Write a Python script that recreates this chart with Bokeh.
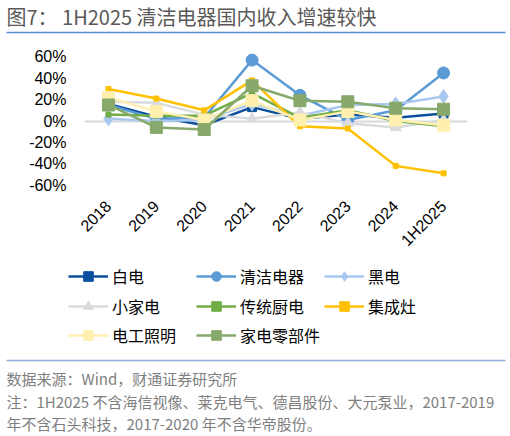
from bokeh.plotting import figure
from bokeh.layouts import column
from bokeh.models import Legend, LegendItem, FixedTicker, PrintfTickFormatter, Range1d
from bokeh.core.properties import value
from bokeh.embed import file_html
from bokeh.resources import INLINE
import math

years = ["2018", "2019", "2020", "2021", "2022", "2023", "2024", "1H2025"]

baidian = [16, 4, -4, 13, 2, 6, 3, 7]            # 白电
qingjie = [15, 2, 3, 57, 24, 1, 10, 45]          # 清洁电器
heidian = [2, 0, 1, 16, 5, 15, 16, 23]           # 黑电
xiaojiadian = [18, 17, 6, 2, 8, -2, -6, 1]       # 小家电
chuangtong = [6, 5, 5, 26, 3, 10, 0, -5]         # 传统厨电
jichengzao = [30, 21, 10, 38, -5, -7, -42, -49]  # 集成灶
diangong = [22, 9, 1, 19, 1, 9, 1, -4]           # 电工照明
lingbujian = [15, -6, -8, 33, 19, 18, 12, 11]    # 家电零部件

series = [
    ("白电", baidian, "#0B4F9F", "square", 9),
    ("清洁电器", qingjie, "#5B9BD5", "circle", 12),
    ("黑电", heidian, "#A9C8F0", "diamond", 14),
    ("小家电", xiaojiadian, "#D9DBDE", "triangle", 11),
    ("传统厨电", chuangtong, "#70AD47", "square", 5),
    ("集成灶", jichengzao, "#FFC000", "square", 5),
    ("电工照明", diangong, "#FFF0B0", "square", 12),
    ("家电零部件", lingbujian, "#87A96B", "square", 12),
]

title = "图7： 1H2025 清洁电器国内收入增速较快"
notes = [
    "数据来源：Wind，财通证券研究所",
    "注：1H2025 不含海信视像、莱克电气、德昌股份、大元泵业，2017-2019",
    "年不含石头科技，2017-2020 年不含华帝股份。",
]

CJK = "Noto Sans CJK SC"
LAT = "Liberation Sans"
W = 510
TOP_H = 40
CHART_H = 10 + 144 + 64
BOT_Y = TOP_H + CHART_H


def blank(h, y0):
    # plain panel whose data units are the picture's pixels
    f = figure(width=W, height=h, x_range=Range1d(0, W), y_range=Range1d(y0 + h, y0),
               output_backend="svg", toolbar_location=None, frame_align=False,
               min_border=0, min_border_left=0, min_border_right=0,
               min_border_top=0, min_border_bottom=0)
    f.axis.visible = False
    f.grid.visible = False
    f.outline_line_color = None
    return f


# --- title panel
top = blank(TOP_H, 0)
top.text(x=[6], y=[16], text=[title], text_font=value(CJK), text_font_size="20px",
         text_color="#595959", text_baseline="middle")
top.segment(x0=[6], y0=[32], x1=[505], y1=[32], line_color="#5A8AD0", line_width=1.5)

# --- chart
p = figure(x_range=years, y_range=(-66, 66), width=W, height=CHART_H,
           output_backend="svg", toolbar_location=None, frame_align=False,
           min_border_left=84, min_border_right=43,
           min_border_top=10, min_border_bottom=64)
p.outline_line_color = None
p.xgrid.grid_line_color = None
p.ygrid.ticker = FixedTicker(ticks=[0])
p.ygrid.grid_line_color = "#D9D9D9"
p.ygrid.grid_line_width = 2

p.yaxis.ticker = FixedTicker(ticks=[-60, -40, -20, 0, 20, 40, 60])
p.yaxis.formatter = PrintfTickFormatter(format="%d%%")
for ax in (p.xaxis, p.yaxis):
    ax.axis_line_color = None
    ax.major_tick_line_color = None
    ax.minor_tick_line_color = None
    ax.major_label_text_font = LAT
    ax.major_label_text_font_size = "16px"
    ax.major_label_text_color = "#000000"
p.yaxis.major_label_standoff = 12
p.xaxis.major_label_standoff = 6
p.xaxis.major_label_orientation = math.pi / 4

for name, vals, color, marker, size in series:
    p.line(years, vals, line_color=color, line_width=2.5)
    p.scatter(years, vals, marker=marker, size=size, fill_color=color, line_color=color)

# --- legend and notes panel
bot = blank(436 - BOT_Y, BOT_Y)
nan = float("nan")
ITEM_H = 24
for i, (name, vals, color, marker, size) in enumerate(series):
    r1 = bot.line(x=[nan], y=[nan], line_color=color, line_width=2.5)
    r2 = bot.scatter(x=[nan], y=[nan], marker=marker, size=size,
                     fill_color=color, line_color=color)
    row, col = divmod(i, 3)
    gx = 68 + 128 * col
    cy = 276 + 29.5 * row
    leg = Legend(items=[LegendItem(label=name, renderers=[r1, r2])],
                 location=(gx, 436 - (cy + ITEM_H / 2)), padding=0, margin=0,
                 glyph_width=40, glyph_height=ITEM_H, label_height=ITEM_H,
                 label_standoff=4, label_text_font=CJK, label_text_font_size="16px",
                 label_text_color="#000000",
                 border_line_color=None, background_fill_alpha=0)
    bot.add_layout(leg, "center")

bot.segment(x0=[6], y0=[360], x1=[505], y1=[360], line_color="#8FADD9", line_width=1.5)
bot.text(x=[6, 6, 6], y=[378, 401, 423], text=notes, text_font=value(CJK),
         text_font_size="15px", text_color="#7F7F7F", text_baseline="middle")

layout = column(top, p, bot, spacing=0)
open("out.html", "w").write(file_html(layout, INLINE))
